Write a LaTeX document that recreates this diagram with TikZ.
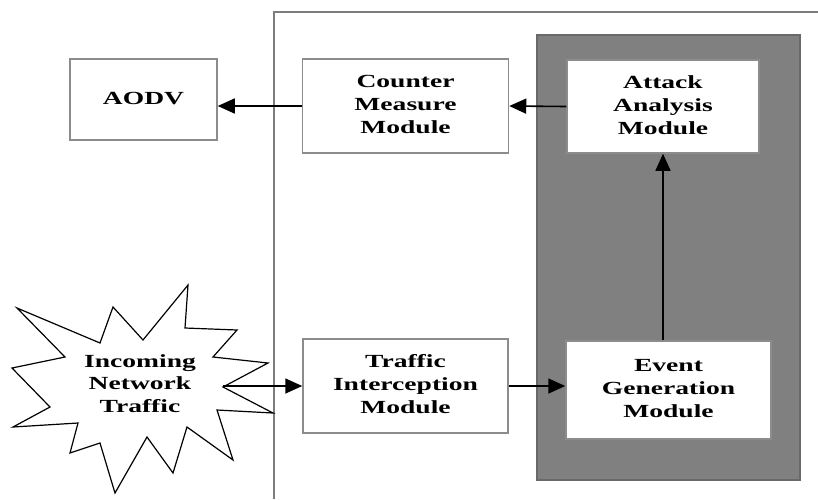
\documentclass[tikz,border=0pt]{standalone}
\usepackage{fontspec}
\setmainfont{Liberation Serif}
\usetikzlibrary{arrows.meta}
\definecolor{boxline}{RGB}{140,140,140}
\definecolor{panel}{RGB}{128,128,128}
\definecolor{panelline}{RGB}{105,105,105}
\definecolor{frameline}{RGB}{125,125,125}
\newcommand\lbl[1]{\scalebox{1.49}[1]{\begin{tabular}{@{}c@{}}#1\end{tabular}}}
\tikzset{
  box/.style={draw=boxline, line width=1.5pt, fill=white, inner sep=0pt,
    font=\fontsize{18.5}{23}\selectfont\bfseries},
  arr/.style={line width=1.6pt, -{Triangle[length=17pt,width=15pt]}},
}
\begin{document}
\begin{tikzpicture}[x=1pt,y=-1pt]
\useasboundingbox (0,0) rectangle (818,499);
% outer frame
\draw[frameline, line width=1.3pt] (274,499) -- (274,12) -- (818,12);
% dark panel
\draw[panelline, fill=panel, line width=1.2pt] (537,35) rectangle (800,480);
% boxes
\node[box, minimum width=147, minimum height=81] (aodv) at (143.5,99.5) {\lbl{AODV}};
\node[box, minimum width=206, minimum height=94] (counter) at (405.5,106) {\lbl{Counter\\Measure\\Module}};
\node[box, minimum width=192, minimum height=93] (attack) at (663,106.5) {\lbl{Attack\\Analysis\\Module}};
\node[box, minimum width=205, minimum height=94] (traffic) at (405.5,386) {\lbl{Traffic\\Interception\\Module}};
\node[box, minimum width=205, minimum height=98] (event) at (668.5,390) {\raisebox{4pt}{\lbl{Event\\Generation\\Module}}};
% star
\draw[black, line width=1.2pt, fill=white, line join=miter]
  (17,308) -- (100,343) -- (113,307) -- (143,340) -- (188,285) -- (185,328)
  -- (237,330) -- (213,357) -- (268,363) -- (223,387) -- (273,413) -- (217,410)
  -- (233,460) -- (187,427) -- (173,473) -- (147,437) -- (115,493) -- (100,443)
  -- (70,453) -- (78,423) -- (13,427) -- (50,407) -- (12,368) -- (65,357) -- cycle;
\node[font=\fontsize{18.5}{22.5}\selectfont\bfseries, inner sep=0pt] (incoming) at (140,385) {\lbl{Incoming\\Network\\Traffic}};
\coordinate (starR) at (223,386);
% connectors
\draw[arr] (starR) -- (traffic.west);
\draw[arr] (traffic.east) -- (event.west |- traffic.east);
\draw[arr] (attack.south |- event.north) -- (attack.south);
\draw[arr] (attack.west) -- (counter.east);
\draw[arr] (counter.west) -- (aodv.east |- counter.west);
\end{tikzpicture}
\end{document}
